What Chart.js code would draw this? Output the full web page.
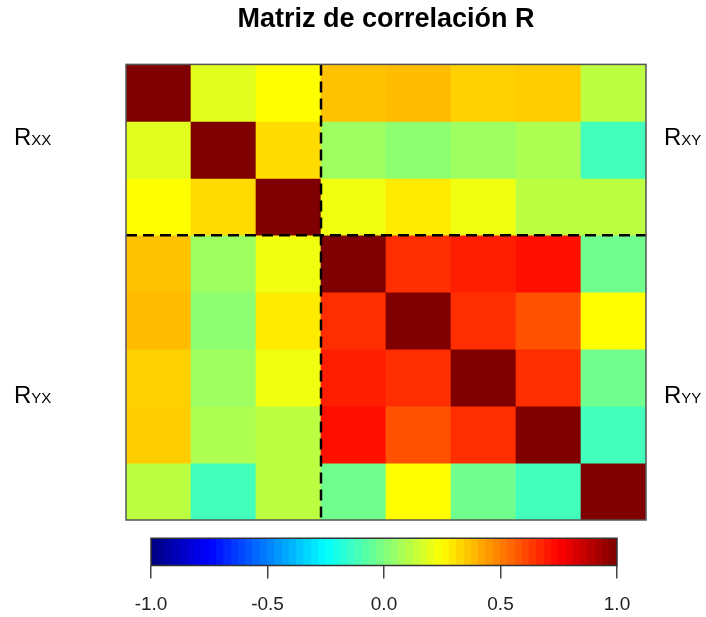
<!DOCTYPE html>
<html>
<head>
<meta charset="utf-8">
<script src="https://cdn.jsdelivr.net/npm/chart.js@4.4.0/dist/chart.umd.min.js"></script>
<style>
  body { margin: 0; background: #fff; overflow: hidden; }
  #wrap { position: relative; width: 706px; height: 617px; overflow: hidden; font-family: "Liberation Sans", Arial, sans-serif; }
  #heat { position: absolute; left: 0; top: 0; }
  #bar { position: absolute; left: 0; top: 502px; }
  .lab { position: absolute; font-size: 24px; line-height: 1; color: #000; white-space: nowrap; }
  .lab span { font-size: 15px; }
</style>
</head>
<body>
<div id="wrap">
  <canvas id="heat" width="706" height="617"></canvas>
  <canvas id="bar" width="706" height="121"></canvas>
  <div class="lab" style="left:14px; top:125px;">R<span>XX</span></div>
  <div class="lab" style="left:664px; top:125px;">R<span>XY</span></div>
  <div class="lab" style="left:14px; top:383px;">R<span>YX</span></div>
  <div class="lab" style="left:664px; top:383px;">R<span>YY</span></div>
</div>
<script>
// variables (3 X block, 5 Y block)
const variables = ["X1", "X2", "X3", "Y1", "Y2", "Y3", "Y4", "Y5"];
const xBlockSize = 3;

// correlation matrix rows
const rowX1 = [1.00, 0.19, 0.25, 0.37, 0.38, 0.34, 0.35, 0.12];
const rowX2 = [0.19, 1.00, 0.32, 0.06, 0.03, 0.06, 0.09, -0.12];
const rowX3 = [0.25, 0.32, 1.00, 0.22, 0.29, 0.22, 0.12, 0.12];
const rowY1 = [0.37, 0.06, 0.22, 1.00, 0.66, 0.69, 0.72, -0.03];
const rowY2 = [0.38, 0.03, 0.29, 0.66, 1.00, 0.66, 0.59, 0.25];
const rowY3 = [0.34, 0.06, 0.22, 0.69, 0.66, 1.00, 0.66, -0.03];
const rowY4 = [0.35, 0.09, 0.12, 0.72, 0.59, 0.66, 1.00, -0.12];
const rowY5 = [0.12, -0.12, 0.12, -0.03, 0.25, -0.03, -0.12, 1.00];
const rows = [rowX1, rowX2, rowX3, rowY1, rowY2, rowY3, rowY4, rowY5];

// colour bar ticks
const barTicks = [-1.0, -0.5, 0.0, 0.5, 1.0];

// jet palette
const jetStops = ["#00007F", "#0000FF", "#007FFF", "#00FFFF", "#7FFF7F", "#FFFF00", "#FF7F00", "#FF0000", "#7F0000"];

function hexToRgb(h) {
  return [parseInt(h.slice(1, 3), 16), parseInt(h.slice(3, 5), 16), parseInt(h.slice(5, 7), 16)];
}

function jet(v) {
  const t = Math.min(Math.max((v + 1) / 2, 0), 1) * (jetStops.length - 1);
  const i = Math.min(Math.floor(t), jetStops.length - 2);
  const f = t - i;
  const a = hexToRgb(jetStops[i]);
  const b = hexToRgb(jetStops[i + 1]);
  const c = a.map((ch, k) => Math.round(ch + (b[k] - ch) * f));
  return `rgb(${c[0]},${c[1]},${c[2]})`;
}

const FONT = "'Liberation Sans', Arial, sans-serif";

// dashed block separators and frame
const blockLines = {
  id: "blockLines",
  afterDatasetsDraw(chart) {
    const { ctx, chartArea: a, scales: { x, y } } = chart;
    const vx = (x.getPixelForValue(xBlockSize - 1) + x.getPixelForValue(xBlockSize)) / 2;
    const hy = y.getPixelForValue(xBlockSize);
    ctx.save();
    ctx.strokeStyle = "#000";
    ctx.lineWidth = 2.5;
    ctx.setLineDash([11, 6]);
    ctx.beginPath();
    ctx.moveTo(vx, a.top);
    ctx.lineTo(vx, a.bottom);
    ctx.moveTo(a.left, hy);
    ctx.lineTo(a.right, hy);
    ctx.stroke();
    ctx.setLineDash([]);
    ctx.strokeStyle = "#555";
    ctx.lineWidth = 1.5;
    ctx.strokeRect(a.left, a.top, a.width, a.height);
    ctx.restore();
  }
};

new Chart(document.getElementById("heat"), {
  type: "bar",
  data: {
    labels: variables,
    datasets: rows.map((r, i) => ({
      label: variables[i],
      data: r.map(() => 1),
      backgroundColor: r.map(v => jet(v)),
      borderWidth: 0,
      barPercentage: 1,
      categoryPercentage: 1
    }))
  },
  options: {
    responsive: false,
    animation: false,
    layout: { padding: { left: 126, right: 60, top: 0, bottom: 97 } },
    plugins: {
      legend: { display: false },
      tooltip: { enabled: false },
      title: {
        display: true,
        text: "Matriz de correlación R",
        color: "#000",
        font: { family: FONT, size: 27, weight: "bold" },
        padding: { top: 3, bottom: 29 }
      }
    },
    scales: {
      x: { display: false, stacked: true },
      y: { display: false, stacked: true, min: 0, max: variables.length, reverse: true }
    }
  },
  plugins: [blockLines]
});

// colour strip drawn along the bar chart's x scale (lower half of the y range)
const colorStrip = {
  id: "colorStrip",
  beforeDatasetsDraw(chart) {
    const { ctx, scales: { x, y } } = chart;
    const top = y.getPixelForValue(1);
    const bottom = y.getPixelForValue(0);
    const n = 64;
    ctx.save();
    for (let i = 0; i < n; i++) {
      const v0 = -1 + 2 * i / n;
      const v1 = -1 + 2 * (i + 1) / n;
      const p0 = x.getPixelForValue(v0);
      const p1 = x.getPixelForValue(v1);
      ctx.fillStyle = jet((v0 + v1) / 2);
      ctx.fillRect(Math.floor(p0), top, Math.ceil(p1) - Math.floor(p0), bottom - top);
    }
    ctx.strokeStyle = "#333";
    ctx.lineWidth = 1.5;
    ctx.strokeRect(x.left, top, x.width, bottom - top);
    ctx.restore();
  }
};

new Chart(document.getElementById("bar"), {
  type: "scatter",
  data: { datasets: [] },
  options: {
    responsive: false,
    animation: false,
    layout: { padding: { left: 151, right: 89, top: 9, bottom: 3 } },
    plugins: { legend: { display: false }, tooltip: { enabled: false } },
    scales: {
      x: {
        type: "linear",
        min: barTicks[0],
        max: barTicks[barTicks.length - 1],
        afterBuildTicks: s => { s.ticks = barTicks.map(v => ({ value: v })); },
        ticks: {
          color: "#222",
          font: { family: FONT, size: 19, lineHeight: 1 },
          padding: 17,
          maxRotation: 0,
          callback: v => v.toFixed(1)
        },
        grid: { drawOnChartArea: false, drawTicks: true, tickLength: 13, color: "#444", lineWidth: 1.5 },
        border: { display: false }
      },
      y: { display: false, min: 0, max: 2 }
    }
  },
  plugins: [colorStrip]
});
</script>
</body>
</html>
